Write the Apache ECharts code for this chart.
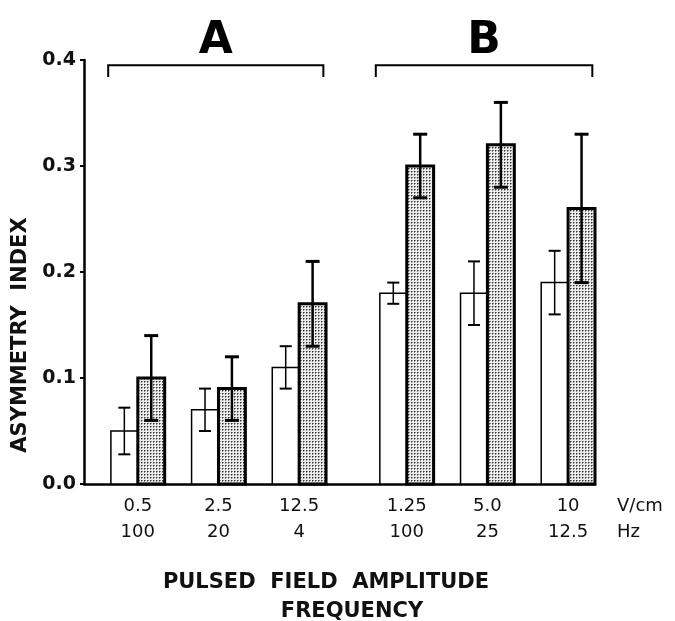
<!DOCTYPE html>
<html>
<head>
<meta charset="utf-8">
<script src="https://cdn.jsdelivr.net/npm/echarts@6/dist/echarts.min.js"></script>
<style>
  html, body { margin: 0; padding: 0; background: #fff; }
  #chart { width: 675px; height: 621px; }
</style>
</head>
<body>
<div id="chart"></div>
<script>
// ---- data ----
const amplitudes = ['0.5', '2.5', '12.5', '1.25', '5.0', '10'];      // V/cm
const frequencies = ['100', '20', '4', '100', '25', '12.5'];          // Hz
const controlValues = [0.05, 0.07, 0.11, 0.18, 0.18, 0.19];          // white bars
const controlErrors = [0.022, 0.02, 0.02, 0.01, 0.03, 0.03];
const treatedValues = [0.10, 0.09, 0.17, 0.30, 0.32, 0.26];          // stippled bars
const treatedErrors = [0.04, 0.03, 0.04, 0.03, 0.04, 0.07];
const groupLabels = ['A', 'B'];
const yTicks = [0, 0.1, 0.2, 0.3, 0.4];

// ---- layout (slot positions on a hidden value axis) ----
const slotStart = [1, 4, 7, 11, 14, 17];
const groupSpans = [[0.9, 8.9], [10.85, 18.9]];
const bracketY = 0.395, bracketDrop = 0.011;

// stipple pattern
const pat = document.createElement('canvas');
pat.width = 3; pat.height = 3;
const pc = pat.getContext('2d');
pc.fillStyle = '#ececec'; pc.fillRect(0, 0, 3, 3);
pc.fillStyle = '#8a8a8a'; pc.fillRect(1, 0, 1, 1); pc.fillRect(0, 1, 1, 1);
pc.fillStyle = '#333'; pc.fillRect(0, 0, 1, 1);

const tickLabelMap = {};
slotStart.forEach((s, i) => { tickLabelMap[s + 1] = amplitudes[i] + '\n' + frequencies[i]; });

const controlData = controlValues.map((v, i) => [slotStart[i], v]);
const treatedData = treatedValues.map((v, i) => [slotStart[i] + 1, v]);
const controlErrData = controlValues.map((v, i) => [slotStart[i] + 0.5, v - controlErrors[i], v + controlErrors[i]]);
const treatedErrData = treatedValues.map((v, i) => [slotStart[i] + 1.5, v - treatedErrors[i], v + treatedErrors[i]]);
const bracketData = groupLabels.map((l, i) => [groupSpans[i][0], groupSpans[i][1], l]);

function barRenderer(fill, lw) {
  return function (params, api) {
    const x0 = api.value(0), v = api.value(1);
    const p0 = api.coord([x0, 0]);
    const p1 = api.coord([x0 + 1, v]);
    return {
      type: 'rect',
      shape: { x: p0[0], y: p1[1], width: p1[0] - p0[0], height: p0[1] - p1[1] },
      style: { fill: fill, stroke: '#000', lineWidth: lw }
    };
  };
}
function errRenderer(lw, capLw, cap) {
  return function (params, api) {
    const x = api.value(0);
    const lo = api.coord([x, api.value(1)]);
    const hi = api.coord([x, api.value(2)]);
    return {
      type: 'group',
      children: [
        { type: 'line', shape: { x1: lo[0], y1: lo[1], x2: hi[0], y2: hi[1] }, style: { stroke: '#000', lineWidth: lw } },
        { type: 'line', shape: { x1: lo[0] - cap, y1: lo[1], x2: lo[0] + cap, y2: lo[1] }, style: { stroke: '#000', lineWidth: capLw } },
        { type: 'line', shape: { x1: hi[0] - cap, y1: hi[1], x2: hi[0] + cap, y2: hi[1] }, style: { stroke: '#000', lineWidth: capLw } }
      ]
    };
  };
}
function bracketRenderer(params, api) {
  const a = api.coord([api.value(0), bracketY]);
  const b = api.coord([api.value(1), bracketY]);
  const d = api.coord([api.value(0), bracketY - bracketDrop]);
  return {
    type: 'group',
    children: [
      { type: 'polyline', shape: { points: [[a[0], d[1]], a, b, [b[0], d[1]]] }, style: { stroke: '#000', lineWidth: 2, fill: null } },
      { type: 'text', x: (a[0] + b[0]) / 2, y: a[1] - 2,
        style: { text: api.value(2), font: 'bold 44px "DejaVu Sans"', fill: '#000', align: 'center', verticalAlign: 'bottom' } }
    ]
  };
}

const chart = echarts.init(document.getElementById('chart'), null, { renderer: 'canvas' });
chart.setOption({
  animation: false,
  backgroundColor: '#fff',
  grid: { left: 84, top: 60, width: 511, height: 424, containLabel: false },
  xAxis: {
    type: 'value', min: 0, max: 19, interval: 1,
    axisLine: { show: true, lineStyle: { color: '#000', width: 2.5 } },
    axisTick: { show: false },
    splitLine: { show: false },
    axisLabel: {
      formatter: v => tickLabelMap[v] || '',
      fontFamily: 'DejaVu Sans', fontSize: 18, lineHeight: 26, color: '#111', margin: 9
    },
    name: 'V/cm\nHz', nameLocation: 'end', nameGap: 22,
    nameTextStyle: { fontFamily: 'DejaVu Sans', fontSize: 18, lineHeight: 26, color: '#111', align: 'left', verticalAlign: 'top', padding: [9, 0, 0, 0] }
  },
  yAxis: {
    type: 'value', min: yTicks[0], max: yTicks[yTicks.length - 1], interval: 0.1,
    axisLine: { show: true, lineStyle: { color: '#000', width: 2.5 } },
    axisTick: { show: true, length: 4, lineStyle: { color: '#000', width: 2 } },
    splitLine: { show: false },
    axisLabel: { formatter: v => v.toFixed(1), fontFamily: 'DejaVu Sans', fontSize: 19, fontWeight: 'bold', color: '#111', margin: 8 },
    name: 'ASYMMETRY  INDEX', nameLocation: 'middle', nameGap: 50,
    nameTextStyle: { fontFamily: 'DejaVu Sans', fontSize: 21, fontWeight: 'bold', color: '#111', padding: [0, 126, 0, 0] }
  },
  graphic: [
    { type: 'text', x: 326, y: 583, style: { text: 'PULSED  FIELD  AMPLITUDE', font: 'bold 21px "DejaVu Sans"', fill: '#111', align: 'center', verticalAlign: 'middle' } },
    { type: 'text', x: 352, y: 612, style: { text: 'FREQUENCY', font: 'bold 21px "DejaVu Sans"', fill: '#111', align: 'center', verticalAlign: 'middle' } }
  ],
  series: [
    { type: 'custom', name: 'control', data: controlData, renderItem: barRenderer('#fff', 1.5), z: 2 },
    { type: 'custom', name: 'treated', data: treatedData, renderItem: barRenderer({ image: pat, repeat: 'repeat' }, 3), z: 2 },
    { type: 'custom', name: 'controlErr', data: controlErrData, renderItem: errRenderer(1.5, 2, 6), z: 3 },
    { type: 'custom', name: 'treatedErr', data: treatedErrData, renderItem: errRenderer(2.5, 3, 7), z: 3 },
    { type: 'custom', name: 'brackets', data: bracketData, renderItem: bracketRenderer, z: 3 }
  ]
});
</script>
</body>
</html>
